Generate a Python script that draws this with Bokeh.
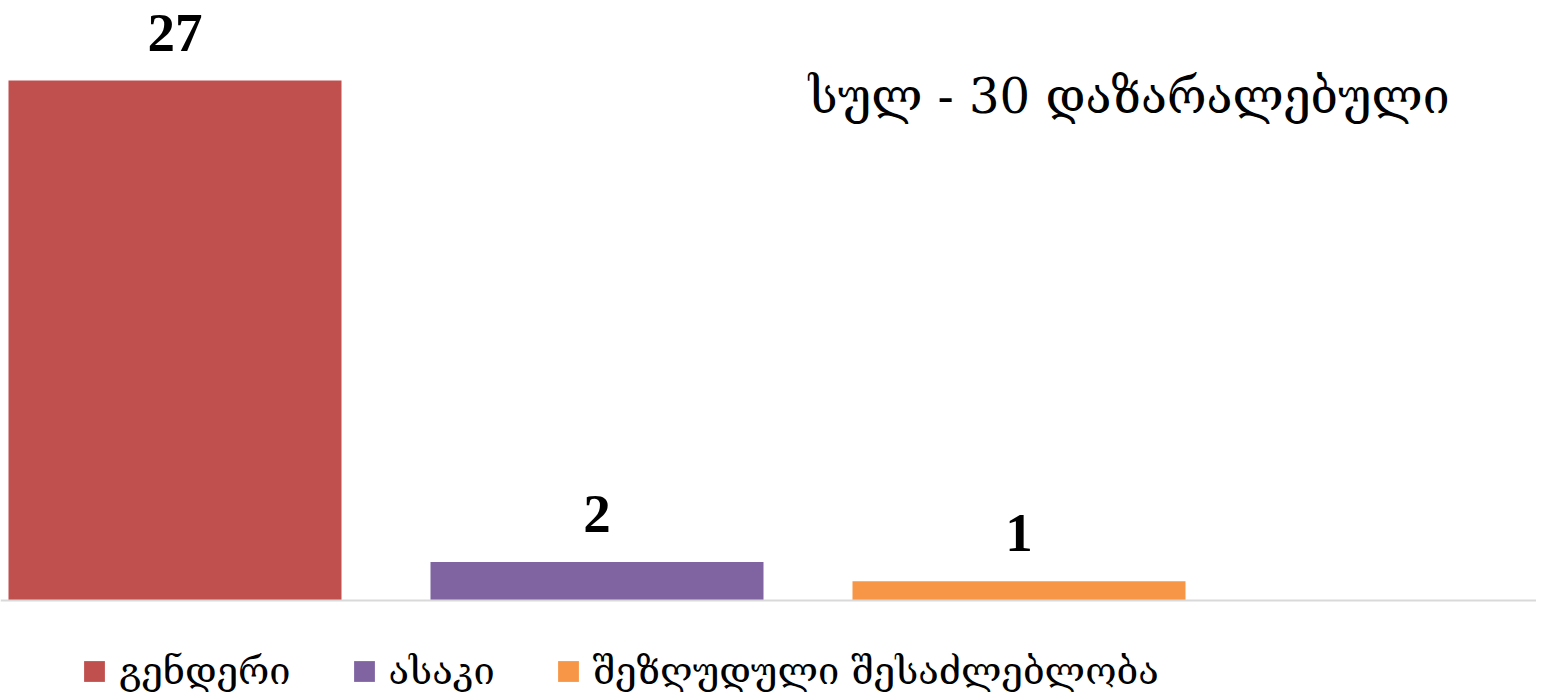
from bokeh.plotting import figure
from bokeh.models import ColumnDataSource, Range1d, Span, Label, Legend, LegendItem
from bokeh.core.properties import value
from bokeh.embed import file_html
from bokeh.resources import INLINE

categories = ["გენდერი", "ასაკი", "შეზღუდული შესაძლებლობა"]
counts = [27, 2, 1]
colors = ["#C0504D", "#8064A2", "#F79646"]
title_text = "სულ - 30 დაზარალებული"

W, H = 1536, 692
px_per_unit = 520 / 27.0
y0_px = 600  # canvas row of value 0

src = ColumnDataSource(dict(
    x=list(range(len(categories))),
    top=counts,
    color=colors,
    label=[str(c) for c in counts],
    cat=categories,
))

x_start = -174.5 / 422
x_end = (W - 174.5) / 422
p = figure(width=W, height=H, output_backend="svg", toolbar_location=None,
           x_range=Range1d(x_start, x_end),
           y_range=Range1d(-(H - y0_px) / px_per_unit, y0_px / px_per_unit),
           min_border=0, min_border_left=0, min_border_right=0,
           min_border_top=0, min_border_bottom=0)
p.outline_line_color = None
p.xaxis.visible = False
p.yaxis.visible = False
p.grid.visible = False
p.background_fill_color = "white"
p.border_fill_color = "white"

bars = p.vbar(x="x", top="top", bottom=0, width=333 / 422, color="color", source=src, line_color=None)

p.add_layout(Span(location=0, dimension="width", line_color="#D9D9D9", line_width=2))

p.text(x="x", y="top", text="label", source=src, y_offset=-48,
       text_align="center", text_baseline="alphabetic",
       text_font=value("Liberation Serif"), text_font_style="bold",
       text_font_size="55px", text_color="black")

p.add_layout(Label(x=808, y=H - 95, x_units="screen", y_units="screen",
                   text=title_text, text_font="DejaVu Serif", text_font_size="48px",
                   text_color="black", text_baseline="alphabetic"))

items = []
for i, c in enumerate(categories):
    items.append(LegendItem(label=c, renderers=[bars], index=i))
legend = Legend(items=items, orientation="horizontal", location=(81, -1),
                glyph_width=26, glyph_height=26, label_standoff=12, spacing=60,
                padding=0, margin=0, border_line_color=None, background_fill_alpha=0,
                label_text_font="DejaVu Serif", label_text_font_size="38px",
                label_text_color="black", label_height=26)
p.add_layout(legend)

open("out.html", "w").write(file_html(p, INLINE))
